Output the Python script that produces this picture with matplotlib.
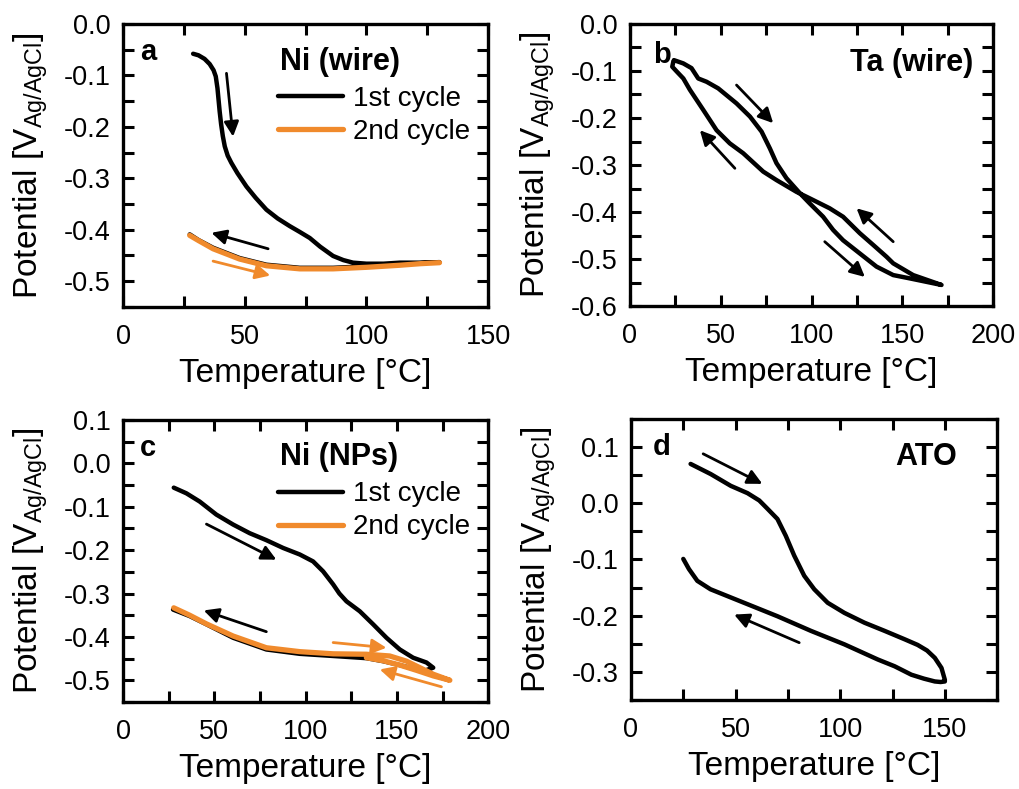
import matplotlib
matplotlib.use("Agg")
import matplotlib.pyplot as plt
from matplotlib.ticker import MultipleLocator

plt.rcParams['font.family'] = ['Liberation Sans', 'DejaVu Sans']

ORANGE = '#F08A2C'

# ---- panel a: Ni (wire) ----
a1_T = [28.8, 31.0, 33.5, 35.6, 37.2, 38.1, 38.8, 39.3, 39.7, 40.3, 41.0, 41.8, 43.0, 44.5, 47.0, 50.7, 54.5,
        58.9, 63.5, 68.5, 72.5, 76.7, 81.0, 86.3, 90.5, 94.5, 100.0, 107.0, 113.7, 122.0, 130.0,
        122.0, 113.7, 100.0, 86.3, 72.6, 58.9, 47.9, 37.0, 31.0, 27.4]
a1_V = [-0.058, -0.061, -0.068, -0.078, -0.090, -0.102, -0.125, -0.150, -0.170, -0.195, -0.218, -0.238,
        -0.256, -0.270, -0.290, -0.316, -0.338, -0.361, -0.378, -0.393, -0.404, -0.416, -0.433, -0.451,
        -0.459, -0.464, -0.466, -0.466, -0.464, -0.464, -0.463,
        -0.465, -0.468, -0.471, -0.474, -0.474, -0.468, -0.455, -0.435, -0.420, -0.409]
a2_T = [27.4, 31.0, 37.0, 47.9, 58.9, 72.6, 86.3, 100.0, 113.7, 122.0, 130.0]
a2_V = [-0.411, -0.421, -0.437, -0.457, -0.470, -0.476, -0.476, -0.473, -0.469, -0.466, -0.464]

# ---- panel b: Ta (wire) ----
b_T = [24.2, 29.4, 33.9, 37.6, 42.2, 48.6, 58.7, 66.1, 72.5, 77.1, 80.7, 86.2, 93.6, 99.1, 106.4, 111.9,
       117.4, 126.6, 135.8, 145.0, 154.1, 171.6,
       156.0, 145.0, 141.3, 134.0, 126.6, 117.4, 110.0, 99.1, 91.7, 80.7, 73.4, 62.4, 55.0, 47.7, 40.4,
       33.0, 29.4, 25.7, 23.3, 23.9]
b_V = [-0.077, -0.084, -0.094, -0.116, -0.123, -0.137, -0.169, -0.197, -0.229, -0.265, -0.296, -0.328,
       -0.360, -0.382, -0.410, -0.438, -0.460, -0.488, -0.516, -0.534, -0.541, -0.555,
       -0.534, -0.509, -0.495, -0.470, -0.445, -0.410, -0.392, -0.371, -0.357, -0.332, -0.314, -0.275,
       -0.254, -0.226, -0.183, -0.140, -0.116, -0.101, -0.091, -0.080]

# ---- panel c: Ni (NPs) ----
c1_T = [27.8, 34.7, 42.0, 51.1, 60.3, 69.4, 78.5, 87.7, 96.8, 104.1, 109.6, 115.1, 118.5, 122.4, 129.7, 137.0,
        144.3, 151.6, 158.9, 166.2, 169.9,
        164.4, 151.6, 142.5, 133.3, 115.1, 96.8, 78.5, 60.3, 45.7, 36.5, 27.4]
c1_V = [-0.056, -0.069, -0.088, -0.118, -0.141, -0.161, -0.177, -0.195, -0.210, -0.226, -0.249, -0.279, -0.300,
        -0.318, -0.341, -0.371, -0.402, -0.429, -0.448, -0.459, -0.471,
        -0.479, -0.465, -0.456, -0.449, -0.444, -0.439, -0.429, -0.402, -0.371, -0.352, -0.337]
c2_T = [27.8, 36.5, 45.7, 60.3, 78.5, 96.8, 115.1, 133.3, 146.1, 155.3, 162.6, 169.9, 179.0,
        170.0, 160.7, 151.6, 142.5, 133.3]
c2_V = [-0.333, -0.350, -0.370, -0.398, -0.425, -0.434, -0.439, -0.440, -0.444, -0.456, -0.471, -0.486, -0.500,
        -0.490, -0.477, -0.465, -0.455, -0.448]

# ---- panel d: ATO ----
d_T = [28.5, 38.1, 47.7, 55.7, 61.3, 65.3, 70.0, 74.0, 78.0, 82.8, 87.6, 94.0, 102.0, 111.6, 121.2, 130.8,
       137.0, 141.5, 145.2, 148.4, 150.0,
       150.0, 148.0, 145.2, 140.0, 134.0, 126.0, 118.0, 102.0, 86.0, 70.0, 54.0, 46.0, 38.0, 31.7, 27.7, 25.0]
d_V = [0.070, 0.052, 0.031, 0.018, 0.005, -0.010, -0.028, -0.058, -0.093, -0.129, -0.153, -0.177, -0.195,
       -0.2125, -0.227, -0.242, -0.252, -0.262, -0.275, -0.293, -0.314,
       -0.317, -0.318, -0.317, -0.312, -0.305, -0.290, -0.278, -0.251, -0.227, -0.201, -0.177, -0.165, -0.153,
       -0.138, -0.117, -0.099]

# arrows: (start T, start V, end T, end V, colour)
a_arrows = [(42.5, -0.096, 45.2, -0.219, 'k'), (59.6, -0.437, 36.3, -0.406, 'k'),
            (37.0, -0.461, 60.5, -0.489, ORANGE)]
b_arrows = [(58.7, -0.130, 78.9, -0.211, 'k'), (57.8, -0.307, 38.5, -0.226, 'k'),
            (145.0, -0.463, 124.8, -0.392, 'k'), (107.3, -0.463, 129.4, -0.538, 'k')]
c_arrows = [(45.7, -0.140, 84.0, -0.222, 'k'), (78.5, -0.388, 44.2, -0.339, 'k'),
            (115.1, -0.413, 144.3, -0.425, ORANGE), (174.4, -0.515, 140.6, -0.475, ORANGE)]
d_arrows = [(34.5, 0.088, 62.8, 0.0345, 'k'), (80.4, -0.248, 49.3, -0.198, 'k')]


def style_axes(ax, xlim, ylim, xmaj, ymaj):
    ax.set_xlim(*xlim)
    ax.set_ylim(*ylim)
    ax.xaxis.set_major_locator(MultipleLocator(xmaj))
    ax.xaxis.set_minor_locator(MultipleLocator(xmaj / 2))
    ax.yaxis.set_major_locator(MultipleLocator(ymaj))
    ax.yaxis.set_minor_locator(MultipleLocator(ymaj / 2))
    ax.tick_params(which='both', direction='in', top=True, right=True, labelsize=19.5, width=2.2)
    ax.tick_params(axis='x', pad=12)
    ax.tick_params(axis='y', pad=9)
    ax.tick_params(which='major', length=8)
    ax.tick_params(which='minor', length=8)
    ax.yaxis.set_major_formatter(plt.FuncFormatter(lambda v, p: f"{v:.1f}"))
    for s in ax.spines.values():
        s.set_linewidth(2.4)
    ax.set_xlabel('Temperature [°C]', fontsize=24, labelpad=6)
    ax.set_ylabel(r'Potential [V$_\mathregular{Ag/AgCl}$]', fontsize=24, labelpad=10)


def add_arrows(ax, arrows):
    for x0, y0, x1, y1, c in arrows:
        ax.annotate('', xy=(x1, y1), xytext=(x0, y0),
                    arrowprops=dict(arrowstyle='-|>', color=c, lw=2.0, mutation_scale=22,
                                    shrinkA=0, shrinkB=0))


def add_legend(ax):
    ax.legend(loc='upper left', bbox_to_anchor=(0.425, 0.782), frameon=False, fontsize=20,
              handlelength=2.35, handletextpad=0.36, labelspacing=0.25, borderpad=0, borderaxespad=0)


fig = plt.figure(figsize=(10.2, 7.89), dpi=100)
ax_a = fig.add_axes([0.1206, 0.611, 0.358, 0.3587])
ax_b = fig.add_axes([0.6176, 0.612, 0.356, 0.3577])
ax_c = fig.add_axes([0.1206, 0.1103, 0.358, 0.3574])
ax_d = fig.add_axes([0.6186, 0.1128, 0.359, 0.3562])

# a
ax_a.plot(a1_T, a1_V, color='k', lw=3.2, label='1st cycle', solid_capstyle='round')
ax_a.plot(a2_T, a2_V, color=ORANGE, lw=3.8, label='2nd cycle', solid_capstyle='round')
style_axes(ax_a, (0, 150), (-0.55, 0.0), 50, 0.1)
add_arrows(ax_a, a_arrows)
ax_a.text(0.047, 0.90, 'a', transform=ax_a.transAxes, fontsize=21, fontweight='bold', va='center')
ax_a.text(0.43, 0.865, 'Ni (wire)', transform=ax_a.transAxes, fontsize=22, fontweight='bold', va='center')
add_legend(ax_a)

# b
ax_b.plot(b_T, b_V, color='k', lw=3.2, solid_capstyle='round')
style_axes(ax_b, (0, 200), (-0.6, 0.0), 50, 0.1)
add_arrows(ax_b, b_arrows)
ax_b.text(0.064, 0.89, 'b', transform=ax_b.transAxes, fontsize=21, fontweight='bold', va='center')
ax_b.text(0.945, 0.86, 'Ta (wire)', transform=ax_b.transAxes, fontsize=22, fontweight='bold',
          va='center', ha='right')

# c
ax_c.plot(c1_T, c1_V, color='k', lw=3.2, label='1st cycle', solid_capstyle='round')
ax_c.plot(c2_T, c2_V, color=ORANGE, lw=3.8, label='2nd cycle', solid_capstyle='round')
style_axes(ax_c, (0, 200), (-0.55, 0.1), 50, 0.1)
add_arrows(ax_c, c_arrows)
ax_c.text(0.047, 0.90, 'c', transform=ax_c.transAxes, fontsize=21, fontweight='bold', va='center')
ax_c.text(0.43, 0.87, 'Ni (NPs)', transform=ax_c.transAxes, fontsize=22, fontweight='bold', va='center')
add_legend(ax_c)

# d
ax_d.plot(d_T, d_V, color='k', lw=3.2, solid_capstyle='round')
style_axes(ax_d, (0, 175), (-0.35, 0.15), 50, 0.1)
add_arrows(ax_d, d_arrows)
ax_d.text(0.06, 0.90, 'd', transform=ax_d.transAxes, fontsize=21, fontweight='bold', va='center')
ax_d.text(0.89, 0.865, 'ATO', transform=ax_d.transAxes, fontsize=22, fontweight='bold',
          va='center', ha='right')

fig.savefig('out.png', dpi=100)
